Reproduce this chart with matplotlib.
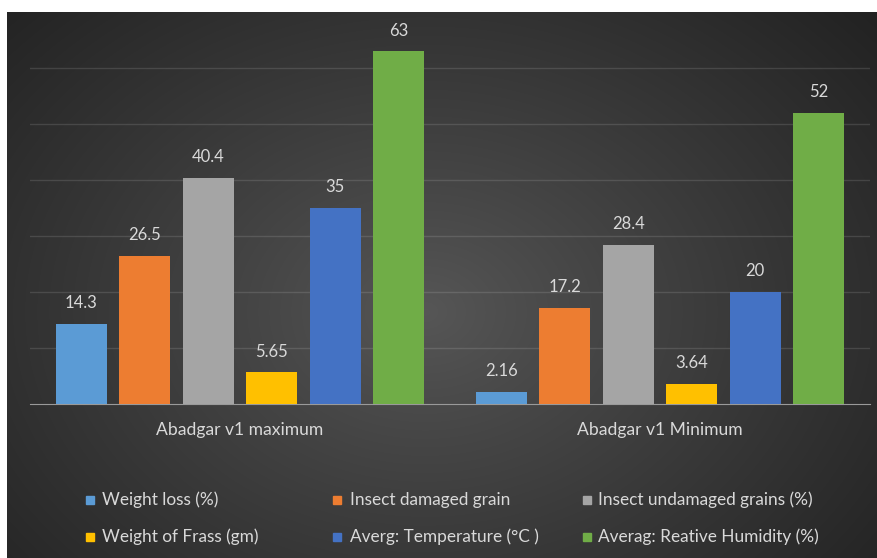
import numpy as np
import matplotlib.pyplot as plt
from matplotlib.patches import Rectangle

plt.rcParams['font.family'] = ['Lato', 'DejaVu Sans']

categories = ['Abadgar v1 maximum', 'Abadgar v1 Minimum']
series_names = ['Weight loss (%)', 'Insect damaged grain', 'Insect undamaged grains (%)',
                'Weight of Frass (gm)', 'Averg: Temperature (°C )', 'Averag: Reative Humidity (%)']
weight_loss = [14.3, 2.16]
damaged = [26.5, 17.2]
undamaged = [40.4, 28.4]
frass = [5.65, 3.64]
temperature = [35, 20]
humidity = [63, 52]
value_labels = [['14.3', '2.16'], ['26.5', '17.2'], ['40.4', '28.4'],
                ['5.65', '3.64'], ['35', '20'], ['63', '52']]
colors = ['#5B9BD5', '#ED7D31', '#A5A5A5', '#FFC000', '#4472C4', '#70AD47']

W, H = 878, 558
fig = plt.figure(figsize=(W / 100, H / 100), dpi=100)
fig.patch.set_facecolor('white')

# dark radial background
bg = fig.add_axes([7 / W, 0, 871 / W, 546 / H], zorder=-2)
yy, xx = np.mgrid[0:1:300j, 0:1:480j]
r = np.sqrt(((xx - 0.48) / 0.7) ** 2 + ((yy - 0.55) / 0.85) ** 2)
shade = 0.34 - 0.21 * np.clip(r, 0, 1) ** 0.9
bg.imshow(np.dstack([shade] * 3), aspect='auto', extent=[0, 1, 0, 1], interpolation='bilinear')
bg.set_axis_off()

ax = fig.add_axes([30 / W, 154 / H, 840 / W, 392 / H])
ax.set_facecolor('none')

series = [weight_loss, damaged, undamaged, frass, temperature, humidity]
x = np.arange(len(categories))
step, width = 0.151, 0.121
for i, vals in enumerate(series):
    pos = x + (i - 2.5) * step
    bars = ax.bar(pos, vals, width, color=colors[i], zorder=3)
    for b, lab in zip(bars, value_labels[i]):
        ax.annotate(lab, (b.get_x() + b.get_width() / 2, b.get_height()),
                    xytext=(0, 9), textcoords='offset points', ha='center', va='bottom',
                    color='#d9d9d9', fontsize=12)

ax.set_xlim(-0.5, 1.5)
ax.set_ylim(0, 70)
ax.set_yticks(range(10, 70, 10))
ax.yaxis.grid(True, color='white', alpha=0.12, linewidth=1)
ax.set_axisbelow(True)
ax.tick_params(axis='y', left=False, labelleft=False)
ax.set_xticks(x)
ax.set_xticklabels(categories, color='#d9d9d9', fontsize=12.6)
ax.tick_params(axis='x', length=0, pad=13)
for s in ['top', 'right', 'left']:
    ax.spines[s].set_visible(False)
ax.spines['bottom'].set_color('#9a9a9a')

# legend in two rows of three
marker_x = [90, 337, 587]
text_x = [102, 350, 598]
row_y = [500, 537]
for i, name in enumerate(series_names):
    row, col = divmod(i, 3)
    cy = (H - row_y[row]) / H
    fig.patches.append(Rectangle(((marker_x[col] - 4) / W, cy - 4 / H), 8 / W, 8 / H,
                                 transform=fig.transFigure, color=colors[i]))
    fig.text(text_x[col] / W, cy, name, color='#d9d9d9', fontsize=12.4, va='center', ha='left')

fig.savefig('out.png', dpi=100, facecolor='white')
